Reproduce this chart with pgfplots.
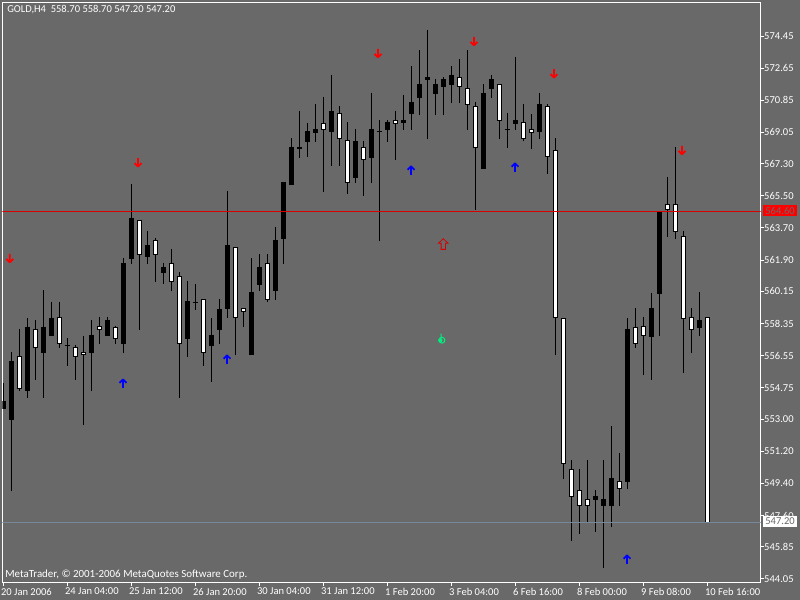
\documentclass[border=0pt]{standalone}
\usepackage{pgfplots}
\usepackage{pgfplotstable}
\usepackage{fontspec}
\setmainfont{Carlito}
\pgfplotsset{compat=1.18}

\definecolor{chartbg}{HTML}{696969}
\definecolor{bidline}{HTML}{778899}
\definecolor{flame}{HTML}{00F080}

% 1 px of the screenshot = 0.75pt
\pgfdeclareplotmark{arrowup}{%
  \pgfsetroundjoin
  \pgfpathmoveto{\pgfqpoint{0pt}{-3.4pt}}\pgfpathlineto{\pgfqpoint{0pt}{3.0pt}}
  \pgfpathmoveto{\pgfqpoint{-2.6pt}{0.4pt}}\pgfpathlineto{\pgfqpoint{0pt}{3.0pt}}\pgfpathlineto{\pgfqpoint{2.6pt}{0.4pt}}
  \pgfusepathqstroke}
\pgfdeclareplotmark{arrowdown}{%
  \pgfsetroundjoin
  \pgfpathmoveto{\pgfqpoint{0pt}{3.4pt}}\pgfpathlineto{\pgfqpoint{0pt}{-3.0pt}}
  \pgfpathmoveto{\pgfqpoint{-2.6pt}{-0.4pt}}\pgfpathlineto{\pgfqpoint{0pt}{-3.0pt}}\pgfpathlineto{\pgfqpoint{2.6pt}{-0.4pt}}
  \pgfusepathqstroke}
\pgfdeclareplotmark{hollowup}{%
  \pgfpathmoveto{\pgfqpoint{0pt}{4pt}}
  \pgfpathlineto{\pgfqpoint{3.6pt}{0.6pt}}\pgfpathlineto{\pgfqpoint{1.6pt}{0.6pt}}
  \pgfpathlineto{\pgfqpoint{1.6pt}{-4pt}}\pgfpathlineto{\pgfqpoint{-1.6pt}{-4pt}}
  \pgfpathlineto{\pgfqpoint{-1.6pt}{0.6pt}}\pgfpathlineto{\pgfqpoint{-3.6pt}{0.6pt}}
  \pgfpathclose
  \pgfusepathqstroke}
\pgfdeclareplotmark{flamedrop}{%
  \pgfpathmoveto{\pgfqpoint{-0.6pt}{4pt}}\pgfpathlineto{\pgfqpoint{-0.2pt}{0.5pt}}
  \pgfpathcircle{\pgfqpoint{0.2pt}{-1pt}}{2.2pt}
  \pgfusepathqstroke
  \pgfpathcircle{\pgfqpoint{-1pt}{-1pt}}{1.6pt}
  \pgfusepathqfill}

% k open high low close
\pgfplotstableread{
k open high low close
0 553.57 555.02 553.57 554.01
1 552.95 556.76 548.97 556.25
3 554.57 558.66 554.18 558.16
5 556.70 560.23 554.18 558.16
6 557.65 559.56 557.65 558.66
8 557.09 557.54 555.97 557.15
11 556.70 558.55 554.57 557.71
13 557.65 558.72 557.65 558.55
15 557.21 562.02 556.70 561.74
16 561.96 566.16 561.68 564.26
18 562.08 563.53 561.68 562.75
20 561.18 561.74 560.57 561.52
23 557.49 560.73 556.48 559.61
24 559.50 560.57 559.11 559.56
26 557.09 558.66 555.08 557.71
27 557.99 559.73 557.21 559.17
28 559.17 565.77 558.66 562.75
31 556.59 562.02 556.59 560.12
32 560.51 562.24 560.17 561.52
34 560.17 563.76 559.67 563.03
35 563.08 566.28 561.68 566.28
36 566.11 568.74 566.11 568.24
37 568.12 570.25 567.62 568.24
38 568.52 569.58 567.68 569.13
39 569.02 570.64 568.52 569.24
41 569.08 572.27 567.17 570.25
44 566.50 569.24 566.22 568.57
46 567.62 571.26 566.22 569.24
47 569.08 569.75 562.97 569.13
48 569.19 569.75 568.52 569.64
50 569.58 571.15 569.19 569.75
51 570.08 572.77 569.19 570.76
52 570.98 573.67 570.03 571.76
53 571.99 574.79 568.68 572.15
54 571.20 572.04 570.03 571.76
55 571.60 572.15 570.03 572.04
56 571.71 572.77 570.70 572.27
60 567.00 571.76 567.00 571.26
61 571.48 572.27 570.98 572.04
63 569.19 570.14 568.18 569.24
64 569.52 573.27 569.19 569.75
67 569.08 571.26 568.68 570.64
74 548.47 549.03 546.68 548.70
75 548.13 550.71 544.66 548.53
76 548.13 552.61 546.96 549.70
78 549.48 558.66 549.09 558.05
81 557.60 560.06 555.19 559.22
82 560.01 564.60 557.65 564.60
87 558.10 560.12 557.65 558.55
}\blackcandles

\pgfplotstableread{
k open high low close
2 556.53 558.05 554.57 554.69
4 558.05 558.55 555.19 556.98
7 558.72 559.56 556.98 557.21
9 557.04 557.15 555.19 556.48
10 556.76 557.65 552.67 556.59
12 558.21 558.72 557.21 557.99
14 558.16 558.21 557.21 557.49
17 564.15 564.15 557.99 562.19
19 563.03 563.14 560.68 562.19
21 561.74 562.52 560.17 560.68
22 561.01 561.24 554.18 557.21
25 559.73 559.73 555.97 556.70
29 562.64 562.64 556.59 558.66
30 559.22 559.22 558.16 559.00
33 561.74 562.24 559.56 559.67
40 569.58 571.04 565.72 569.19
42 570.14 570.53 567.17 568.68
43 568.63 569.64 565.60 566.22
45 568.24 568.57 565.49 567.51
49 569.75 570.25 567.51 569.52
57 572.15 573.16 570.70 571.60
58 571.54 573.67 569.19 570.59
59 570.53 570.76 564.71 568.18
62 571.76 571.76 568.68 569.69
65 569.64 570.64 568.57 568.68
66 569.24 570.08 568.12 569.02
68 570.53 570.64 566.72 567.68
69 568.07 568.74 556.59 558.66
70 558.66 558.66 549.65 550.49
71 550.21 550.71 546.18 548.64
72 549.03 550.21 546.57 548.13
73 548.53 550.71 547.18 548.13
77 549.53 551.10 548.13 549.09
79 558.16 559.22 556.98 557.21
80 558.21 558.72 555.47 557.65
83 565.04 566.56 563.20 564.71
84 565.04 568.24 563.08 563.48
85 563.25 563.53 555.58 558.61
86 558.72 559.22 556.70 557.99
88 558.70 558.70 547.20 547.20
}\whitecandles

\pgfplotsset{
  candlebar/.style 2 args={forget plot, draw=none, mark=none,
    error bars/.cd, y dir=minus, y explicit, error mark=none,
    error bar style={solid, draw=#1, line width=#2}},
}

\newcommand{\chartfont}{\fontsize{7.9}{9}\selectfont}

\begin{document}
\begin{tikzpicture}
  \useasboundingbox (0,0) rectangle (600pt,450pt);
  \fill[chartbg] (0,0) rectangle (600pt,450pt);
  \begin{axis}[
      at={(1.875pt,13.125pt)},
      anchor=south west,
      scale only axis,
      width=568.5pt,
      height=435pt,
      xmin=-0.125, xmax=94.625,
      ymin=543.85, ymax=576.326,
      axis line style={white, line width=0.75pt},
      tick style={white, line width=0.75pt},
      tick align=outside,
      major tick length=2.6pt,
      xtick pos=bottom,
      ytick pos=right,
      yticklabel pos=right,
      xtick={0,8,...,88},
      xticklabels={20 Jan 2006, 24 Jan 04:00, 25 Jan 12:00, 26 Jan 20:00, 30 Jan 04:00, 31 Jan 12:00,
        1 Feb 20:00, 3 Feb 04:00, 6 Feb 16:00, 8 Feb 00:00, 9 Feb 08:00, 10 Feb 16:00},
      ytick={574.45,572.65,570.85,569.05,567.30,565.50,563.70,561.90,560.15,558.35,556.55,554.75,553.00,551.20,549.40,547.60,545.85,544.05},
      yticklabels={574.45,572.65,570.85,569.05,567.30,565.50,563.70,561.90,560.15,558.35,556.55,554.75,553.00,551.20,549.40,547.60,545.85,544.05},
      xticklabel style={font=\chartfont, white, anchor=north west, xshift=-2pt, yshift=2pt, inner xsep=0pt},
      yticklabel style={font=\chartfont, white, anchor=west, xshift=-1pt, inner xsep=1pt},
    ]
    % wicks
    \addplot[candlebar={black}{0.75pt}] table[x=k, y=high, y error minus expr=\thisrow{high}-\thisrow{low}] {\blackcandles};
    \addplot[candlebar={black}{0.75pt}] table[x=k, y=high, y error minus expr=\thisrow{high}-\thisrow{low}] {\whitecandles};
    % bodies
    \addplot[candlebar={black}{3.75pt}] table[x=k, y=close, y error minus expr=\thisrow{close}-\thisrow{open}] {\blackcandles};
    \addplot[candlebar={black}{3.75pt}] table[x=k, y=open, y error minus expr=\thisrow{open}-\thisrow{close}] {\whitecandles};
    \addplot[candlebar={white}{2.25pt}] table[x=k, y expr=\thisrow{open}-0.056, y error minus expr=\thisrow{open}-\thisrow{close}-0.112] {\whitecandles};
    % price lines
    \addplot[red!85!black, line width=0.75pt, forget plot] coordinates {(-0.125,564.62) (94.625,564.62)};
    \addplot[bidline, line width=0.75pt, forget plot] coordinates {(-0.125,547.21) (94.625,547.21)};
    % signals
    \addplot[only marks, mark=arrowdown, red, line width=1.3pt] coordinates {
      (0.78,562.00) (16.81,567.36) (46.81,573.48) (58.81,574.15) (68.81,572.34) (84.81,568.05)};
    \addplot[only marks, mark=arrowup, blue, line width=1.3pt] coordinates {
      (14.94,555.00) (27.94,556.35) (50.94,566.93) (63.94,567.10) (77.94,545.15)};
    \addplot[only marks, mark=hollowup, red!85!black, line width=0.6pt] coordinates {(54.97,562.80)};
    \addplot[only marks, mark=flamedrop, flame, line width=0.75pt] coordinates {(54.77,557.49)};
  \end{axis}
  \begin{scope}[x=0.75pt, y=-0.75pt, shift={(0,450pt)}]
    \node[anchor=west, inner sep=0pt, white, font=\chartfont] at (7,10) {GOLD,H4\ \ 558.70 558.70 547.20 547.20};
    \node[anchor=west, inner sep=0pt, white, font=\fontsize{8.2}{9}\selectfont] at (5,574.5) {MetaTrader, © 2001-2006 MetaQuotes Software Corp.};
    \fill[red] (763,205) rectangle (797,216);
    \node[inner sep=0pt, chartbg, font=\chartfont] at (780,210.5) {564.60};
    \fill[white] (763,516) rectangle (797,527);
    \node[inner sep=0pt, chartbg, font=\chartfont] at (780,521.5) {547.20};
  \end{scope}
\end{tikzpicture}
\end{document}
